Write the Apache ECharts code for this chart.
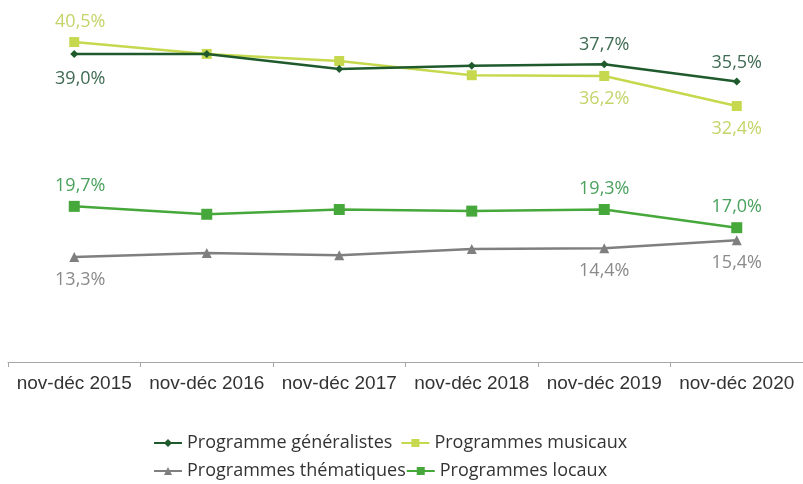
<!DOCTYPE html>
<html><head><meta charset="utf-8">
<script src="https://cdn.jsdelivr.net/npm/echarts@6/dist/echarts.min.js"></script>
<style>html,body{margin:0;padding:0;background:#fff}#c{width:803px;height:484px}</style>
</head><body><div id="c"></div>
<script>
const categories = ['nov-déc 2015','nov-déc 2016','nov-déc 2017','nov-déc 2018','nov-déc 2019','nov-déc 2020'];
const generalistes = [39.0, 39.0, 37.1, 37.5, 37.7, 35.5];
const musicaux = [40.5, 39.0, 38.1, 36.3, 36.2, 32.4];
const thematiques = [13.3, 13.8, 13.5, 14.3, 14.4, 15.4];
const locaux = [19.7, 18.7, 19.3, 19.1, 19.3, 17.0];
const labelledIdx = [0, 4, 5];

const fmt = v => v.toFixed(1).replace('.', ',') + '%';
function mkLabel(pos, color) {
  return {
    show: true, position: pos, distance: 6, color: color,
    fontFamily: 'Open Sans', fontSize: 18,
    formatter: p => labelledIdx.includes(p.dataIndex) ? fmt(p.value) : ''
  };
}
function points(arr, positions, bottomDist) {
  return arr.map((v, i) => ({ value: v, label: {
    position: positions[i],
    distance: positions[i] === 'bottom' ? bottomDist : 6,
    offset: [i === 0 ? 6 : 0, 0] } }));
}
const genPos = ['bottom','bottom','bottom','bottom','top','top'];
const musPos = ['top','top','top','top','bottom','bottom'];
const themPos = Array(6).fill('bottom');
const locPos = Array(6).fill('top');

const chart = echarts.init(document.getElementById('c'));
chart.setOption({
  animation: false,
  grid: { left: 8, width: 800, top: 6.5, height: 355.5 },
  xAxis: {
    type: 'category', data: categories, boundaryGap: true,
    axisLine: { lineStyle: { color: '#a6a6a6', width: 1 } },
    axisTick: { show: true, length: 5, lineStyle: { color: '#a6a6a6' } },
    axisLabel: { color: '#333', fontFamily: 'Liberation Sans', fontSize: 19, margin: 12, interval: 0 }
  },
  yAxis: { type: 'value', min: 0, max: 45, show: false, splitLine: { show: false } },
  legend: [
    { left: 148, top: 429, itemGap: 8, itemWidth: 28, itemHeight: 10,
      textStyle: { fontFamily: 'Open Sans', fontSize: 18, color: '#333' },
      data: ['Programme généralistes', 'Programmes musicaux'] },
    { left: 148, top: 457, itemGap: 0, itemWidth: 28, itemHeight: 10,
      textStyle: { fontFamily: 'Open Sans', fontSize: 18, color: '#333' },
      data: ['Programmes thématiques', 'Programmes locaux'] }
  ],
  series: [
    { name: 'Programme généralistes', type: 'line', data: points(generalistes, genPos, 12),
      symbol: 'diamond', symbolSize: 8, lineStyle: { color: '#1f5a2c', width: 2.5 },
      itemStyle: { color: '#1f5a2c' }, label: mkLabel('bottom', '#3f6b52'), z: 3 },
    { name: 'Programmes musicaux', type: 'line', data: points(musicaux, musPos, 9),
      symbol: 'rect', symbolSize: 10, lineStyle: { color: '#c6d94e', width: 2.5 },
      itemStyle: { color: '#c6d94e' }, label: mkLabel('top', '#c5d46a'), z: 2 },
    { name: 'Programmes thématiques', type: 'line', data: points(thematiques, themPos, 9),
      symbol: 'triangle', symbolSize: 10, lineStyle: { color: '#7f7f7f', width: 2.5 },
      itemStyle: { color: '#7f7f7f' }, label: mkLabel('bottom', '#8a8a8a'), z: 2 },
    { name: 'Programmes locaux', type: 'line', data: points(locaux, locPos, 9),
      symbol: 'rect', symbolSize: 11, lineStyle: { color: '#46a83a', width: 2.5 },
      itemStyle: { color: '#46a83a' }, label: mkLabel('top', '#4aa25e'), z: 2 }
  ]
});
</script></body></html>
